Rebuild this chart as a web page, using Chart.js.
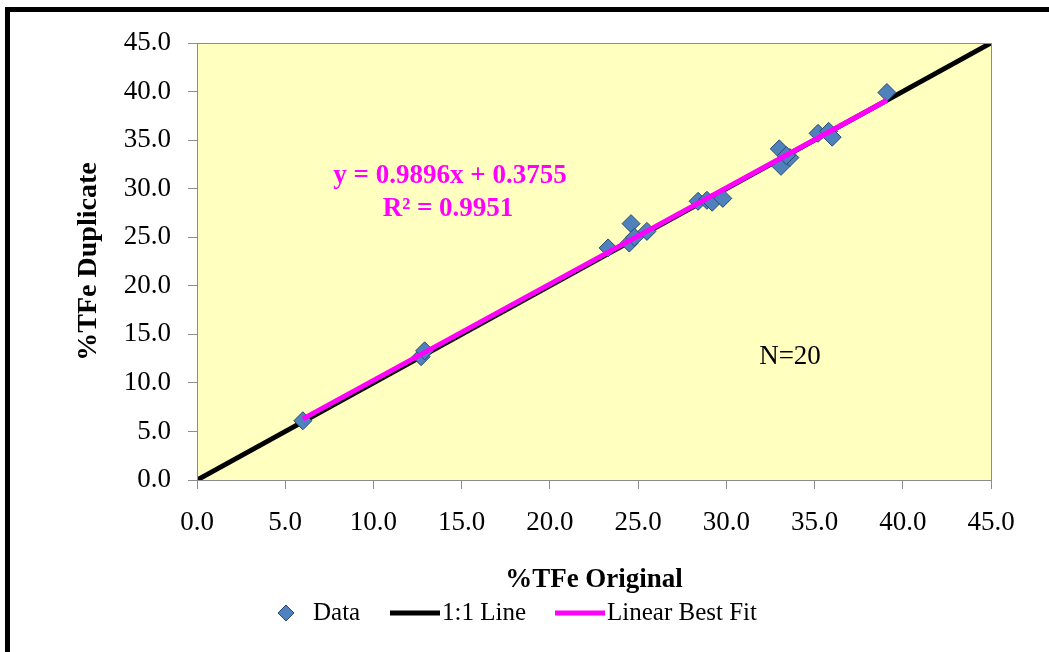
<!DOCTYPE html>
<html>
<head>
<meta charset="utf-8">
<script src="https://cdn.jsdelivr.net/npm/chart.js@4/dist/chart.umd.min.js"></script>
<style>
    html, body { margin: 0; padding: 0; background: #ffffff; }
    #wrap { width: 1049px; height: 652px; }
</style>
</head>
<body>
<div id="wrap"><canvas id="tfeChart" width="1049" height="652"></canvas></div>
<script>
// TFe original vs duplicate assays
const originalTFe = [6.0, 12.7, 12.9, 23.3, 24.6, 24.5, 24.8, 25.5, 28.4, 28.9, 29.2, 29.8, 33.0, 33.1, 33.6, 33.4, 35.2, 35.8, 36.0, 39.1];
const duplicateTFe = [6.1, 12.7, 13.3, 23.9, 26.4, 24.4, 25.0, 25.6, 28.7, 28.8, 28.6, 29.0, 34.1, 32.3, 33.2, 33.4, 35.7, 35.9, 35.3, 39.9];

// 1:1 reference line and regression line end points
const oneToOneX = [0, 45];
const oneToOneY = [0, 45];
const fitX = [6.0, 39.1];
const fitY = [6.3, 39.1];

const tickLabels = ["0.0", "5.0", "10.0", "15.0", "20.0", "25.0", "30.0", "35.0", "40.0", "45.0"];
const legendNames = ["Data", "1:1 Line", "Linear Best Fit"];
const fitText = ["y = 0.9896x + 0.3755", "R\u00b2 = 0.9951"];
const countText = "N=20";

const serif = "'Liberation Serif', 'Times New Roman', serif";
const blue = "#4f81bd";
const magenta = "#ff00ff";

function toPoints(xs, ys) {
    return xs.map(function (x, i) { return { x: x, y: ys[i] }; });
}

// background, frame, text and legend
const decorPlugin = {
    id: "decor",
    beforeDraw: function (chart) {
        const ctx = chart.ctx;
        const a = chart.chartArea;
        ctx.save();
        ctx.fillStyle = "#ffffc0";
        ctx.fillRect(a.left, a.top, a.right - a.left, a.bottom - a.top);
        ctx.strokeStyle = "#000000";
        ctx.lineWidth = 5;
        ctx.strokeRect(7.5, 9.5, 1200, 800);
        ctx.restore();
    },
    afterDraw: function (chart) {
        const ctx = chart.ctx;
        const a = chart.chartArea;
        ctx.save();
        ctx.strokeStyle = "#8c8c8c";
        ctx.lineWidth = 1;
        ctx.strokeRect(a.left + 0.5, a.top + 0.5, a.right - a.left, a.bottom - a.top);

        ctx.textAlign = "center";
        ctx.textBaseline = "middle";
        ctx.fillStyle = magenta;
        ctx.font = "bold 27px " + serif;
        ctx.fillText(fitText[0], 450, 176);
        ctx.fillText(fitText[1], 448, 209);

        ctx.fillStyle = "#000000";
        ctx.font = "27px " + serif;
        ctx.fillText(countText, 790, 357);

        // legend
        const ly = 613;
        ctx.font = "25px " + serif;
        ctx.textAlign = "left";
        ctx.beginPath();
        ctx.moveTo(286, ly - 8);
        ctx.lineTo(294, ly);
        ctx.lineTo(286, ly + 8);
        ctx.lineTo(278, ly);
        ctx.closePath();
        ctx.fillStyle = blue;
        ctx.fill();
        ctx.strokeStyle = "#2a4a70";
        ctx.lineWidth = 1;
        ctx.stroke();
        ctx.fillStyle = "#000000";
        ctx.fillText(legendNames[0], 313, ly);

        ctx.lineWidth = 5;
        ctx.strokeStyle = "#000000";
        ctx.beginPath();
        ctx.moveTo(390, ly);
        ctx.lineTo(440, ly);
        ctx.stroke();
        ctx.fillText(legendNames[1], 442, ly);

        ctx.strokeStyle = magenta;
        ctx.beginPath();
        ctx.moveTo(555, ly);
        ctx.lineTo(605, ly);
        ctx.stroke();
        ctx.fillText(legendNames[2], 607, ly);
        ctx.restore();
    }
};

const ctx = document.getElementById("tfeChart").getContext("2d");
const tfeChart = new Chart(ctx, {
    type: "scatter",
    data: {
        datasets: [{
            label: legendNames[2],
            data: toPoints(fitX, fitY),
            showLine: true,
            borderColor: magenta,
            borderWidth: 5,
            pointRadius: 0,
            order: 0
        }, {
            label: legendNames[0],
            data: toPoints(originalTFe, duplicateTFe),
            pointStyle: "rectRot",
            pointRadius: 9,
            pointHoverRadius: 9,
            backgroundColor: blue,
            borderColor: "#2a4a70",
            borderWidth: 1,
            order: 1
        }, {
            label: legendNames[1],
            data: toPoints(oneToOneX, oneToOneY),
            showLine: true,
            borderColor: "#000000",
            borderWidth: 5,
            pointRadius: 0,
            order: 2
        }]
    },
    options: {
        responsive: false,
        animation: false,
        layout: { padding: { top: 43, right: 58, left: 0, bottom: 0 } },
        plugins: {
            legend: { display: false },
            tooltip: { enabled: false }
        },
        scales: {
            x: {
                type: "linear",
                min: 0,
                max: 45,
                afterFit: function (scale) { scale.height = 172; },
                afterBuildTicks: function (scale) {
                    scale.ticks = tickLabels.map(function (t) { return { value: parseFloat(t) }; });
                },
                ticks: {
                    color: "#000000",
                    font: { family: serif, size: 27 },
                    padding: 18,
                    callback: function (value, index) { return tickLabels[index]; }
                },
                grid: { drawOnChartArea: false, tickLength: 9, color: "#8c8c8c" },
                border: { display: true, color: "#8c8c8c" },
                title: {
                    display: true,
                    text: "%TFe Original",
                    color: "#000000",
                    font: { family: serif, size: 27, weight: "bold" },
                    padding: { top: 0, bottom: 56 }
                }
            },
            y: {
                type: "linear",
                min: 0,
                max: 45,
                afterFit: function (scale) { scale.width = 197; },
                afterBuildTicks: function (scale) {
                    scale.ticks = tickLabels.map(function (t) { return { value: parseFloat(t) }; });
                },
                ticks: {
                    color: "#000000",
                    font: { family: serif, size: 27 },
                    padding: 17,
                    callback: function (value, index) { return tickLabels[index]; }
                },
                grid: { drawOnChartArea: false, tickLength: 9, color: "#8c8c8c" },
                border: { display: true, color: "#8c8c8c" },
                title: {
                    display: true,
                    text: "%TFe Duplicate",
                    color: "#000000",
                    font: { family: serif, size: 28, weight: "bold" },
                    padding: { top: 72, bottom: 0 }
                }
            }
        }
    },
    plugins: [decorPlugin]
});
</script>
</body>
</html>
